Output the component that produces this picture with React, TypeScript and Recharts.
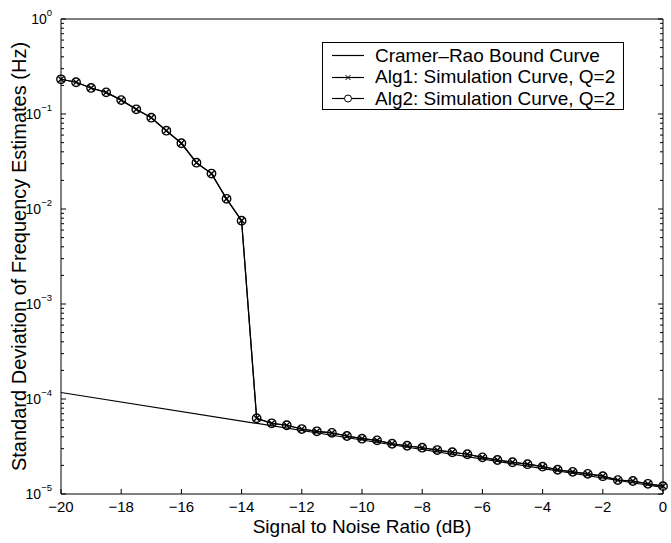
import React from "react";
import { LineChart, Line, XAxis, YAxis } from "recharts";

const snrValues = [
  -20, -19.5, -19, -18.5, -18, -17.5, -17, -16.5, -16, -15.5, -15, -14.5, -14,
  -13.5, -13, -12.5, -12, -11.5, -11, -10.5, -10, -9.5, -9, -8.5, -8, -7.5, -7,
  -6.5, -6, -5.5, -5, -4.5, -4, -3.5, -3, -2.5, -2, -1.5, -1, -0.5, 0,
];

const alg1Values = [
  0.232, 0.216, 0.188, 0.169, 0.14, 0.112, 0.0914, 0.0667, 0.0492, 0.0307, 0.0236,
  0.0128, 0.00753, 6.27e-5, 5.55e-5, 5.29e-5, 4.83e-5, 4.57e-5, 4.4e-5, 4.08e-5,
  3.82e-5, 3.67e-5, 3.38e-5, 3.22e-5, 3.07e-5, 2.9e-5, 2.75e-5, 2.62e-5, 2.43e-5,
  2.28e-5, 2.16e-5, 2.06e-5, 1.94e-5, 1.8e-5, 1.71e-5, 1.63e-5, 1.54e-5, 1.4e-5,
  1.37e-5, 1.28e-5, 1.21e-5,
];

// Alg2 sits right on top of Alg1 in the figure
const alg2Values = [
  0.232, 0.216, 0.188, 0.169, 0.14, 0.112, 0.0914, 0.0667, 0.0492, 0.0307, 0.0236,
  0.0128, 0.00753, 6.27e-5, 5.55e-5, 5.29e-5, 4.83e-5, 4.57e-5, 4.4e-5, 4.08e-5,
  3.82e-5, 3.67e-5, 3.38e-5, 3.22e-5, 3.07e-5, 2.9e-5, 2.75e-5, 2.62e-5, 2.43e-5,
  2.28e-5, 2.16e-5, 2.06e-5, 1.94e-5, 1.8e-5, 1.71e-5, 1.63e-5, 1.54e-5, 1.4e-5,
  1.37e-5, 1.28e-5, 1.21e-5,
];

const crbSnr = [-20, -10, 0];
const crbValues = [1.17e-4, 3.7e-5, 1.17e-5];

const seriesNames = [
  "Cramer\u2013Rao Bound Curve",
  "Alg1: Simulation Curve, Q=2",
  "Alg2: Simulation Curve, Q=2",
];

const xTicks = [-20, -18, -16, -14, -12, -10, -8, -6, -4, -2, 0];
const yDecades = [-5, -4, -3, -2, -1, 0];
const yMinor = [2, 3, 4, 5, 6, 7, 8, 9];

const simData = snrValues.map((snr, i) => ({
  snr,
  alg1: alg1Values[i],
  alg2: alg2Values[i],
}));
const crbData = crbSnr.map((snr, i) => ({ snr, crb: crbValues[i] }));

const yTicks: number[] = [];
yDecades.forEach((d) => {
  yTicks.push(Math.pow(10, d));
  if (d < 0) yMinor.forEach((m) => yTicks.push(m * Math.pow(10, d)));
});

const FONT = "'Liberation Sans', Arial, Helvetica, sans-serif";
const W = 671;
const H = 543;
const LEFT = 61;
const TOP = 19;
const RIGHT_W = 8;
const BOTTOM_H = 49;

const decadeOf = (v: number) => {
  const e = Math.round(Math.log10(v));
  return Math.abs(v - Math.pow(10, e)) < Math.pow(10, e) * 1e-6 ? e : null;
};

const XTickBottom = (props: any) => {
  const { x, y, payload } = props;
  const v = payload.value;
  const txt = v < 0 ? "\u2212" + Math.abs(v) : String(v);
  return (
    <g>
      <line x1={x} x2={x} y1={y} y2={y - 5} stroke="#000" />
      <text x={x} y={y + 18} textAnchor="middle" fontSize={15} fontFamily={FONT} fill="#000">
        {txt}
      </text>
    </g>
  );
};

const XTickTop = (props: any) => {
  const { x, y } = props;
  return <line x1={x} x2={x} y1={y} y2={y + 5} stroke="#000" />;
};

const YTickLeft = (props: any) => {
  const { x, y, payload } = props;
  const e = decadeOf(payload.value);
  const len = e === null ? 3 : 5;
  return (
    <g>
      <line x1={x} x2={x + len} y1={y} y2={y} stroke="#000" />
      {e !== null && (
        <text x={x - 9} y={y + 5} textAnchor="end" fontSize={14} fontFamily={FONT} fill="#000">
          <tspan>10</tspan>
          <tspan dy={-8} fontSize={9.5}>
            {e < 0 ? "\u2212" + Math.abs(e) : String(e)}
          </tspan>
        </text>
      )}
    </g>
  );
};

const YTickRight = (props: any) => {
  const { x, y, payload } = props;
  const len = decadeOf(payload.value) === null ? 3 : 5;
  return <line x1={x} x2={x - len} y1={y} y2={y} stroke="#000" />;
};

const CrossCircle = (props: any) => {
  const { cx, cy } = props;
  if (cx == null || cy == null) return <g />;
  const d = 2.9;
  return (
    <g>
      <line x1={cx - d} y1={cy - d} x2={cx + d} y2={cy + d} stroke="#000" strokeWidth={1.4} />
      <line x1={cx - d} y1={cy + d} x2={cx + d} y2={cy - d} stroke="#000" strokeWidth={1.4} />
    </g>
  );
};

const CircleDot = (props: any) => {
  const { cx, cy } = props;
  if (cx == null || cy == null) return <g />;
  return <circle cx={cx} cy={cy} r={4.2} fill="none" stroke="#000" strokeWidth={1.4} />;
};

const LegendBox = () => (
  <div
    style={{
      position: "absolute",
      left: 322,
      top: 42,
      width: 300,
      height: 66,
      border: "1px solid #000",
      background: "#fff",
      fontFamily: FONT,
      fontSize: 19,
      color: "#000",
    }}
  >
    {seriesNames.map((name, i) => (
      <div
        key={name}
        style={{
          position: "absolute",
          left: 9,
          top: 2 + i * 21.5,
          height: 21,
          display: "flex",
          alignItems: "center",
          whiteSpace: "nowrap",
        }}
      >
        <svg width={32} height={21} style={{ marginRight: 11 }}>
          <line x1={0} x2={32} y1={10.5} y2={10.5} stroke="#000" strokeWidth={1.2} />
          {i === 1 && (
            <g>
              <line x1={13.5} y1={8} x2={18.5} y2={13} stroke="#000" />
              <line x1={13.5} y1={13} x2={18.5} y2={8} stroke="#000" />
            </g>
          )}
          {i === 2 && <circle cx={16} cy={10.5} r={3.5} fill="#fff" stroke="#000" />}
        </svg>
        <span>{name}</span>
      </div>
    ))}
  </div>
);

export default function App() {
  return (
    <div style={{ position: "absolute", left: 0, top: 0, width: W, height: H, background: "#fff" }}>
      <LineChart width={W} height={H} margin={{ top: 0, right: 0, bottom: 0, left: 0 }}>
        <XAxis
          dataKey="snr"
          type="number"
          domain={[-20, 0]}
          ticks={xTicks}
          interval={0}
          height={BOTTOM_H}
          tickSize={0}
          tickMargin={0}
          tick={XTickBottom}
          axisLine={{ stroke: "#000" }}
          allowDuplicatedCategory={false}
          label={(p: any) => {
            const vb = p.viewBox;
            return (
              <text
                x={vb.x + vb.width / 2}
                y={vb.y + 39}
                textAnchor="middle"
                fontSize={19}
                fontFamily={FONT}
                fill="#000"
              >
                Signal to Noise Ratio (dB)
              </text>
            );
          }}
        />
        <XAxis
          xAxisId="top"
          orientation="top"
          dataKey="snr"
          type="number"
          domain={[-20, 0]}
          ticks={xTicks}
          interval={0}
          height={TOP}
          tickSize={0}
          tickMargin={0}
          tick={XTickTop}
          axisLine={{ stroke: "#000" }}
        />
        <YAxis
          yAxisId="left"
          type="number"
          scale="log"
          domain={[1e-5, 1]}
          allowDataOverflow
          ticks={yTicks}
          interval={0}
          width={LEFT}
          tickSize={0}
          tickMargin={0}
          tick={YTickLeft}
          axisLine={{ stroke: "#000" }}
          label={(p: any) => {
            const vb = p.viewBox;
            const cx = vb.x + 26;
            const cy = vb.y + vb.height / 2;
            return (
              <text
                x={cx}
                y={cy}
                transform={`rotate(-90 ${cx} ${cy})`}
                textAnchor="middle"
                fontSize={20}
                fontFamily={FONT}
                fill="#000"
              >
                Standard Deviation of Frequency Estimates (Hz)
              </text>
            );
          }}
        />
        <YAxis
          yAxisId="right"
          orientation="right"
          type="number"
          scale="log"
          domain={[1e-5, 1]}
          allowDataOverflow
          ticks={yTicks}
          interval={0}
          width={RIGHT_W}
          tickSize={0}
          tickMargin={0}
          tick={YTickRight}
          axisLine={{ stroke: "#000" }}
        />
        <Line
          yAxisId="left"
          data={crbData}
          dataKey="crb"
          name={seriesNames[0]}
          stroke="#000"
          strokeWidth={1.2}
          dot={false}
          isAnimationActive={false}
        />
        <Line
          yAxisId="left"
          data={simData}
          dataKey="alg1"
          name={seriesNames[1]}
          stroke="#000"
          strokeWidth={1.2}
          dot={CrossCircle}
          isAnimationActive={false}
        />
        <Line
          yAxisId="left"
          data={simData}
          dataKey="alg2"
          name={seriesNames[2]}
          stroke="#000"
          strokeWidth={1.2}
          dot={CircleDot}
          isAnimationActive={false}
        />
      </LineChart>
      <LegendBox />
    </div>
  );
}
